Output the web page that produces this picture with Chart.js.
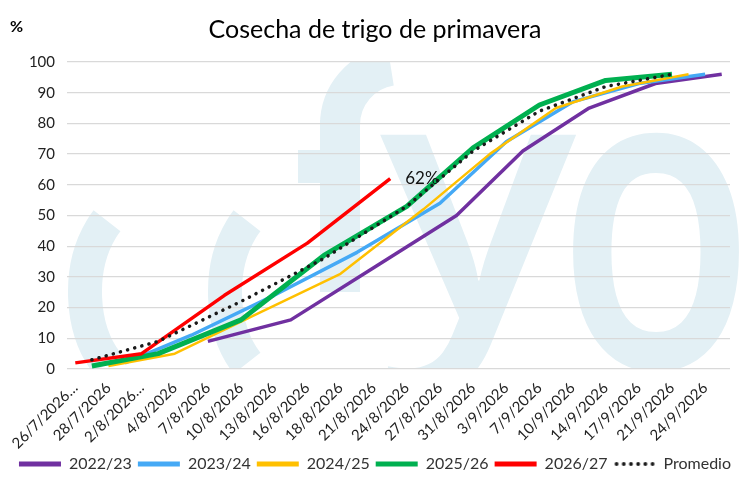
<!DOCTYPE html>
<html>
<head>
<meta charset="utf-8">
<script src="https://cdn.jsdelivr.net/npm/chart.js@4.4.1/dist/chart.umd.min.js"></script>
<style>
  html, body { margin: 0; padding: 0; background: #fff; }
</style>
</head>
<body>
<canvas id="cosecha" width="750" height="495"></canvas>
<script>
// Fechas de las 5 campañas, llevadas a 2026 (solo se rotula una de cada dos)
const fechas = [
  '26/7/2026…', '27/7/2026', '28/7/2026', '30/7/2026', '2/8/2026…', '3/8/2026',
  '4/8/2026', '6/8/2026', '7/8/2026', '9/8/2026', '10/8/2026', '11/8/2026',
  '13/8/2026', '14/8/2026', '16/8/2026', '17/8/2026', '18/8/2026', '20/8/2026',
  '21/8/2026', '23/8/2026', '24/8/2026', '25/8/2026', '27/8/2026', '28/8/2026',
  '31/8/2026', '1/9/2026', '3/9/2026', '4/9/2026', '7/9/2026', '8/9/2026',
  '10/9/2026', '11/9/2026', '14/9/2026', '15/9/2026', '17/9/2026', '18/9/2026',
  '21/9/2026', '22/9/2026', '24/9/2026', '25/9/2026'
];

const campanias = ['2022/23', '2023/24', '2024/25', '2025/26', '2026/27', 'Promedio'];

const v2022 = [null, null, null, null, null, null, null, null, 9, null, null, null, null, 16, null, null, null, null, 33, null,
               null, null, null, 50, null, null, null, 71, null, null, null, 85, null, null, null, 93, null, null, null, 96];
const v2023 = [null, null, null, 2, null, null, null, 11, null, null, null, null, 24, null, null, null, null, 38, null, null,
               null, null, 54, null, null, null, 74, null, null, null, 87, null, null, null, 93, null, null, null, 96, null];
const v2024 = [null, null, 1, null, null, null, 5, null, null, null, null, 18, null, null, null, null, 31, null, null, null,
               null, 52, null, null, null, 70, null, null, null, 85, null, null, null, 92, null, null, null, 96, null, null];
const v2025 = [null, 1, null, null, null, 5, null, null, null, null, 16, null, null, null, null, 37, null, null, null, null,
               53, null, null, null, 72, null, null, null, 86, null, null, null, 94, null, null, null, 96, null, null, null];
const v2026 = [2, null, null, null, 5, null, null, null, null, 24, null, null, null, null, 41, null, null, null, null, 62];
const promedio = [null, 3, null, null, null, 9, null, null, null, null, 22, null, null, null, null, 36, null, null, null, null,
                  53, null, null, null, 71, null, null, null, 84, null, null, null, 92, null, null, null, 96, null, null, null];

const yTicks = [0, 10, 20, 30, 40, 50, 60, 70, 80, 90, 100];

const colores = ['#7030a0', '#45a9f5', '#ffc000', '#00b050', '#ff0000', '#1a1a1a'];
const grosores = [3.5, 3.5, 2.5, 5, 3.5, 3.5];

// muestra punteada para la leyenda de "Promedio"
const puntos = document.createElement('canvas');
puntos.width = 42;
puntos.height = 6;
(function () {
  const c = puntos.getContext('2d');
  c.fillStyle = '#1a1a1a';
  for (let x = 3; x < 42; x += 7.2) {
    c.beginPath();
    c.arc(x, 3, 1.9, 0, Math.PI * 2);
    c.fill();
  }
})();

// Marca de agua "fyo" de fondo
function glyph(ctx, ch, left, right, top, bottom) {
  ctx.save();
  ctx.font = '600 100px "Open Sans"';
  const m = ctx.measureText(ch);
  const w = m.actualBoundingBoxLeft + m.actualBoundingBoxRight;
  const h = m.actualBoundingBoxAscent + m.actualBoundingBoxDescent;
  const sx = (right - left) / w, sy = (bottom - top) / h;
  ctx.translate(left + m.actualBoundingBoxLeft * sx, top + m.actualBoundingBoxAscent * sy);
  ctx.scale(sx, sy);
  ctx.fillText(ch, 0, 0);
  ctx.restore();
}

const marcaAgua = {
  id: 'marcaAgua',
  beforeDraw(chart) {
    const {ctx, chartArea: a} = chart;
    ctx.save();
    ctx.beginPath();
    ctx.rect(0, a.top, chart.width, a.bottom - a.top);
    ctx.clip();
    ctx.fillStyle = '#e3f0f5';
    ctx.strokeStyle = '#e3f0f5';
    ctx.lineWidth = 34;
    [150, 290].forEach(cx => {
      ctx.beginPath();
      ctx.ellipse(cx, 292, 65, 95, 0, Math.PI * 0.73, Math.PI * 1.27);
      ctx.stroke();
    });
    // f
    ctx.fillRect(320, 120, 40, 172);
    ctx.fillRect(298, 150, 62, 33);
    ctx.lineWidth = 40;
    ctx.beginPath();
    ctx.arc(400, 125, 60, Math.PI, Math.PI * 1.45);
    ctx.stroke();
    glyph(ctx, 'y', 380, 578, 135, 400);
    glyph(ctx, 'o', 573, 742, 133, 372);
    ctx.restore();
  }
};

const rotulos = {
  id: 'rotulos',
  afterDraw(chart) {
    const {ctx} = chart;
    ctx.save();
    ctx.fillStyle = '#000';
    ctx.font = 'bold 16px Lato';
    ctx.textBaseline = 'middle';
    ctx.fillText('%', 10, 27);
    // valor de la campaña actual al final de la línea
    const meta = chart.getDatasetMeta(4);
    const last = meta.data[v2026.length - 1];
    ctx.font = '17px Lato';
    ctx.fillStyle = '#111';
    ctx.fillText(v2026[v2026.length - 1] + '%', last.x + 15, last.y);
    ctx.restore();
  }
};

const series = [v2022, v2023, v2024, v2025, v2026, promedio];

const datasets = series.map((d, i) => ({
  label: campanias[i],
  data: d,
  borderColor: colores[i],
  backgroundColor: colores[i],
  borderWidth: grosores[i],
  borderDash: i === 5 ? [0.1, 7.3] : [],
  borderCapStyle: i === 5 ? 'round' : 'butt',
  borderJoinStyle: 'round',
  pointRadius: 0,
  pointHoverRadius: 0,
  tension: 0,
  spanGaps: true,
  order: 6 - i
}));

new Chart(document.getElementById('cosecha'), {
  type: 'line',
  data: { labels: fechas, datasets: datasets },
  options: {
    responsive: false,
    animation: false,
    layout: { padding: { left: 10, right: 10, top: 0, bottom: 13 } },
    plugins: {
      title: {
        display: true,
        text: 'Cosecha de trigo de primavera',
        color: '#000',
        font: { family: 'Lato', size: 25, weight: 'normal' },
        padding: { top: 15, bottom: 17 }
      },
      legend: {
        position: 'bottom',
        labels: {
          sort: (a, b) => a.datasetIndex - b.datasetIndex,
          usePointStyle: true,
          pointStyle: 'line',
          pointStyleWidth: 42,
          color: '#333',
          font: { family: 'Lato', size: 16 },
          padding: 6,
          generateLabels: chart => {
            const items = Chart.defaults.plugins.legend.labels.generateLabels(chart);
            items.forEach(it => {
              it.lineWidth = 5;
              if (it.datasetIndex === 5) it.pointStyle = puntos;
            });
            return items;
          }
        }
      },
      tooltip: { enabled: false }
    },
    scales: {
      x: {
        offset: true,
        grid: { display: false },
        border: { display: false },
        ticks: {
          autoSkip: false,
          maxRotation: 45,
          minRotation: 45,
          padding: 2,
          color: '#222',
          font: { family: 'Lato', size: 15 },
          callback: (v, i) => (i % 2 === 0 ? fechas[i] : '')
        },
        afterFit: s => { s.height = 81; }
      },
      y: {
        min: 0,
        max: 100,
        afterBuildTicks: s => { s.ticks = yTicks.map(v => ({ value: v })); },
        grid: { color: '#d9d9d9', lineWidth: 1.3, drawTicks: false },
        border: { display: false },
        ticks: { padding: 12, color: '#222', font: { family: 'Lato', size: 15 } },
        afterFit: s => { s.width = 57; }
      },
      // eje vacío a la derecha, solo para dejar el margen del área de trazado
      margen: {
        position: 'right',
        grid: { display: false },
        border: { display: false },
        ticks: { display: false },
        afterFit: s => { s.width = 10; }
      }
    }
  },
  plugins: [marcaAgua, rotulos]
});
</script>
</body>
</html>
